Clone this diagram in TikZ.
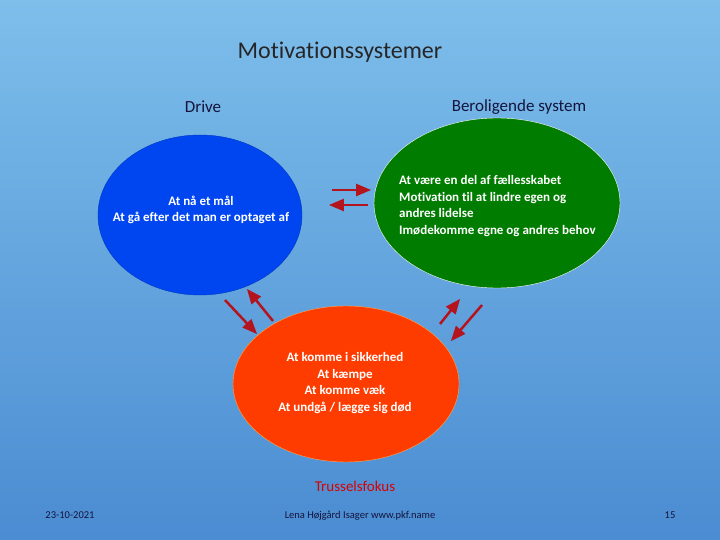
\documentclass[tikz,border=0pt]{standalone}
\usepackage{fontspec}
\setmainfont{Carlito}[Ligatures={NoCommon,TeX}]
\usetikzlibrary{arrows,shapes}
\definecolor{bgtop}{RGB}{125,190,235}
\definecolor{bgbot}{RGB}{75,140,210}
\definecolor{dblue}{RGB}{0,70,240}
\definecolor{dgreen}{RGB}{0,125,0}
\definecolor{dred}{RGB}{255,60,0}
\definecolor{darrow}{RGB}{180,20,30}
\definecolor{lbl}{RGB}{20,20,60}
\tikzset{
  blobtext/.style={text=white,inner sep=0pt,font=\bfseries\fontsize{13}{16.5}\selectfont},
  blob/.style={ellipse,blobtext},
  heading/.style={font=\fontsize{17}{20}\selectfont,text=lbl},
  foot/.style={anchor=base,font=\fontsize{10.5}{12}\selectfont,text=lbl},
  pointer/.style={->,>=triangle 45,darrow,line width=2.5pt}
}
\begin{document}
\begin{tikzpicture}[x=1pt,y=-1pt]
                \shade[top color=bgtop,bottom color=bgbot](0,0)rectangle(720,540);
                \useasboundingbox(0,0)rectangle(720,540);
                \node[font=\fontsize{24}{28}\selectfont,text=black!85](Title)at(340, 52){Motivationssystemer};
                \node[heading](DriveLbl)at(203, 107){Drive};
                \node[heading](SoothLbl)at(519, 107){Beroligende system};
                \node[blob,fill=dblue,draw=dblue!80!black,minimum width=204,minimum height=160,align=center](Drive)at(200, 215){};
                \node[blobtext,align=center](DriveTxt)at(201, 210){At nå et mål\\At gå efter det man er optaget af};
                \node[blob,fill=dgreen,draw=white,minimum width=246,minimum height=170](Sooth)at(497, 203){};
                \node[blobtext,align=left,anchor=west](SoothTxt)at(399, 206){At være en del af fællesskabet\\Motivation til at  lindre egen og\\andres lidelse\\Imødekomme egne og andres behov};
                \node[blob,fill=dred,draw=orange!70,minimum width=226,minimum height=156](Threat)at(346, 384){};
                \node[blobtext,align=center](ThreatTxt)at(345, 383){At komme i sikkerhed\\At kæmpe\\At komme væk\\At undgå / lægge sig død};
                \node[font=\fontsize{15}{18}\selectfont,text=red!85!black](ThreatLbl)at(355, 486){Trusselsfokus};
                \node[foot](Date)at(70, 518){23-10-2021};
                \node[foot](Author)at(360, 518){Lena Højgård Isager www.pkf.name};
                \node[foot](Page)at(670, 518){15};
                % arrow end points
                \coordinate(a1)at(332, 190); \coordinate(a2)at(371, 190);
                \coordinate(b1)at(368, 205); \coordinate(b2)at(329, 205);
                \coordinate(c1)at(225, 300); \coordinate(c2)at(257, 334);
                \coordinate(d1)at(273, 321); \coordinate(d2)at(247, 289);
                \coordinate(e1)at(440, 324); \coordinate(e2)at(460, 299);
                \coordinate(f1)at(482, 305); \coordinate(f2)at(451, 341);
                \draw[pointer](a1) -- (a2);
                \draw[pointer](b1) -- (b2);
                \draw[pointer](c1) -- (c2);
                \draw[pointer](d1) -- (d2);
                \draw[pointer](e1) -- (e2);
                \draw[pointer](f1) -- (f2);
            \end{tikzpicture}
\end{document}
